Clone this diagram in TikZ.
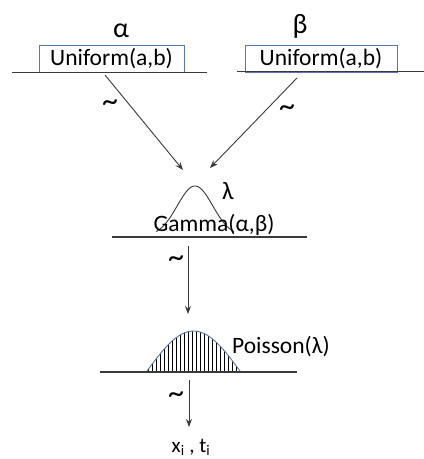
\documentclass[tikz,border=0pt]{standalone}
\usepackage{fontspec}
\setmainfont{Carlito}
\usetikzlibrary{arrows.meta}
\definecolor{boxblue}{HTML}{5677B5}
\definecolor{linegray}{HTML}{3A3A3A}
\tikzset{
  baseline/.style={draw=linegray, line width=1.1pt},
  ubox/.style={draw=boxblue, line width=1pt, minimum width=145pt, minimum height=27pt, inner sep=0pt, font=\fontsize{23.5}{26}\selectfont},
  lbl/.style={inner sep=0pt, font=\fontsize{23.5}{26}\selectfont},
  tilde/.style={inner sep=0pt, font=\fontsize{32}{34}\selectfont},
  greek/.style={inner sep=0pt, font=\fontsize{28}{30}\selectfont},
  arr/.style={draw=linegray, line width=0.9pt, -{Stealth[length=8pt,width=6pt]}},
}
\begin{document}
\begin{tikzpicture}[x=1pt,y=-1pt]
\useasboundingbox (0,0) rectangle (424,459);
% top row
\node[greek] (alpha) at (121,31) {α};
\node[greek] (beta) at (300,26) {β};
\node[ubox] (ua) at (111.5,58.5) {Uniform(a,b)};
\node[ubox, minimum width=152pt] (ub) at (321,58.5) {Uniform(a,b)};
\coordinate (la1) at (12,72.5); \coordinate (la2) at (207,72.5);
\coordinate (lb1) at (237,71.5); \coordinate (lb2) at (424,71.5);
\draw[baseline] (la1) -- (la2);
\draw[baseline] (lb1) -- (lb2);
% arrows to gamma
\coordinate (sa) at (105,75); \coordinate (ta) at (183,170);
\coordinate (sb) at (297,78); \coordinate (tb) at (210,168);
\draw[arr] (sa) -- (ta);
\draw[arr] (sb) -- (tb);
\node[tilde] (t1) at (110,106) {\textasciitilde};
\node[tilde] (t2) at (287,111) {\textasciitilde};
% gamma
\draw[linegray, line width=0.9pt, domain=156:234, samples=80, smooth]
  plot (\x, {236 - 50*exp(-((\x-195)/25)^2)});
\node[greek, font=\fontsize{25}{28}\selectfont] (lam) at (228,191) {λ};
\node[lbl] (gam) at (214,225) {Gamma(α,β)};
\coordinate (lg1) at (112,237); \coordinate (lg2) at (307,237);
\draw[baseline] (lg1) -- (lg2);
% arrow to poisson
\coordinate (sg) at (188,246); \coordinate (tg) at (188,314);
\draw[arr] (sg) -- (tg);
\node[tilde] (t3) at (176,262) {\textasciitilde};
% poisson
\begin{scope}
  \clip plot[domain=147:240, samples=60] (\x, {371 - 40*sin((\x-147)/93*180)}) -- cycle;
  \foreach \xx in {148,152,...,240} {
    \draw[black, line width=0.9pt] (\xx,320) -- (\xx,372);
  }
\end{scope}
\draw[boxblue, line width=0.9pt, domain=147:240, samples=60, smooth]
  plot (\x, {371 - 40*sin((\x-147)/93*180)});
\node[lbl] (poi) at (281,347) {Poisson(λ)};
\coordinate (lp1) at (100,372); \coordinate (lp2) at (297,372);
\draw[baseline] (lp1) -- (lp2);
% arrow to data
\coordinate (sp) at (189,380); \coordinate (tp) at (189,427);
\draw[arr] (sp) -- (tp);
\node[tilde] (t4) at (176,398) {\textasciitilde};
\node[lbl, font=\fontsize{21}{24}\selectfont] (xt) at (191,447) {x\textsubscript{i} , t\textsubscript{i}};
\end{tikzpicture}
\end{document}
